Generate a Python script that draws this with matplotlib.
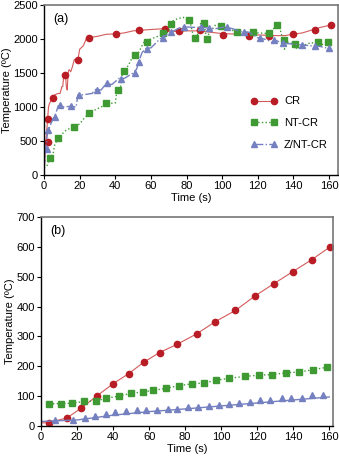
import matplotlib.pyplot as plt
from matplotlib.lines import Line2D

# ---- panel (a): temperature traces (line) and marker points ----
cr_t = [0, 0.5, 1, 1.5, 2, 2.5, 3, 4, 5, 6, 8, 9, 10, 10.5, 11, 12, 12.5, 13, 13.5, 14, 15, 16, 17, 18,
        19, 20, 22, 24, 25, 30, 35, 40, 45, 50, 55, 60, 66, 67, 67.5, 75, 80, 88, 90, 100, 110, 120, 130,
        135, 140, 145, 150, 155, 160]
cr_T = [0, 250, 500, 650, 830, 1000, 1050, 1100, 1130, 1180, 1200, 1200, 1300, 1300, 1460, 1470, 1300,
        1250, 1500, 1550, 1520, 1600, 1700, 1700, 1700, 1850, 1900, 2020, 2020, 2040, 2070, 2075, 2090,
        2120, 2130, 2140, 2150, 2170, 2120, 2110, 2120, 2120, 2110, 2080, 2070, 2060, 2050, 2050, 2070,
        2090, 2130, 2170, 2200]
cr_mt = [2.4, 2.4, 4.9, 11.8, 19.1, 25.4, 40.4, 53.1, 68.1, 75.6, 87.6, 100.3, 115.3, 126, 139.6, 152.1, 161]
cr_mT = [489, 822, 1135, 1468, 1698, 2020, 2074, 2128, 2143, 2113, 2138, 2060, 2045, 2040, 2070, 2133, 2202]

nt_t = [0, 2, 3, 5, 6, 8, 10, 12, 16, 20, 22, 25, 28, 32, 35, 40, 41, 43, 44, 47, 50, 53, 56, 60, 65,
        67, 70, 71, 75, 78, 80, 82, 84, 86, 88, 90, 91, 93, 96, 100, 104, 108, 115, 120, 126, 128, 130,
        132, 134, 135, 137, 140, 142, 145, 150, 155, 158, 160]
nt_T = [100, 150, 250, 300, 450, 540, 600, 650, 710, 750, 820, 900, 950, 1000, 1050, 1060, 1260, 1300,
        1520, 1600, 1750, 1800, 1950, 2000, 2050, 2080, 2100, 2250, 2300, 2320, 2280, 2250, 2020, 2050,
        2240, 2230, 2000, 2100, 2200, 2190, 2150, 2100, 2100, 2090, 2080, 2100, 2220, 2200, 1990, 1850,
        1950, 1930, 1850, 1900, 1950, 1900, 1950, 1950]
nt_mt = [3.4, 8, 16.8, 25.4, 34.8, 41.7, 44.9, 51.1, 57.6, 67, 71.5, 81.6, 84.6, 89.8, 91.7, 99.2, 108.5,
         117.1, 126.5, 131, 134.7, 140.9, 153.6, 159.2]
nt_mT = [245, 538, 709, 905, 1052, 1257, 1531, 1761, 1962, 2084, 2216, 2275, 2020, 2241, 2006, 2192, 2099,
         2099, 2084, 2202, 1991, 1932, 1952, 1952]

z_t = [0, 1, 2, 3, 5, 6, 8, 10, 15, 18, 19, 22, 27, 29, 32, 35, 38, 42, 45, 50, 52, 53, 55, 57, 60, 65,
       70, 75, 78, 85, 88, 92, 96, 102, 106, 110, 115, 120, 125, 128, 130, 134, 138, 142, 146, 150, 155, 160]
z_T = [100, 380, 650, 700, 830, 860, 1020, 1000, 1010, 1000, 1180, 1180, 1200, 1260, 1250, 1350, 1330,
       1420, 1420, 1500, 1560, 1660, 1800, 1860, 1870, 2000, 2080, 2150, 2180, 2170, 2180, 2160, 2150,
       2180, 2150, 2110, 2100, 2020, 1990, 1950, 1980, 1940, 1930, 1920, 1910, 1900, 1890, 1860]
z_mt = [1.7, 2, 6.2, 9, 15, 19.8, 29.6, 35.6, 43.1, 51.1, 53.5, 57.6, 66.6, 71.1, 78.6, 88, 92.8, 102.5,
        112.5, 121.1, 128.8, 134, 144.6, 152.1, 160.2]
z_mT = [377, 656, 856, 1027, 1012, 1184, 1257, 1355, 1418, 1502, 1663, 1859, 2011, 2099, 2177, 2177, 2157,
        2177, 2104, 2016, 1981, 1942, 1918, 1898, 1864]

# ---- panel (b) ----
b_cr_t = [0, 4.2, 14.4, 22.2, 30.9, 39.9, 48.6, 56.9, 65.8, 75.7, 86.5, 96.6, 107.9, 118.6, 129.3, 139.7, 150.2, 160.4]
b_cr_T = [10, 11, 27, 59, 100, 141, 175, 213, 246, 274, 309, 349, 387, 435, 477, 517, 557, 600]

b_nt_t = [4.6, 11.1, 17.4, 23.8, 30.7, 36.2, 43.2, 49.9, 56.5, 62.4, 69.3, 76.5, 83.7, 90.5, 97.2, 104.6,
          113.3, 120.8, 128.3, 136, 143.4, 150.8, 158.9]
b_nt_T = [74, 75, 76, 82, 84, 93, 100, 109, 114, 119, 126, 135, 141, 144, 153, 160, 166, 170, 172, 178,
          181, 188, 197]

b_z_t = [0, 20, 40, 60, 80, 100, 120, 140, 160]
b_z_T = [15, 20, 36, 48, 57, 67, 77, 87, 97]
b_z_mt = [7.6, 17.7, 24.6, 30.1, 35.8, 41, 47.3, 53.2, 58.4, 64.3, 70.4, 75.7, 81.8, 87, 93.5, 98.7,
          104.2, 110.1, 116, 121.6, 127.2, 133.8, 138.9, 144.9, 150.4, 156.3]
b_z_mT = [20, 20, 28, 34, 40, 46, 50, 53, 54, 54, 57, 57, 63, 63, 67, 69, 74, 78, 81, 86, 86, 92, 94, 95,
          103, 105]

red_line, red_mk = '#d45a5a', '#b81c24'
green = '#3f9a34'
blue = '#7480bf'

plt.rcParams['font.family'] = 'Liberation Sans'
plt.rcParams['font.size'] = 8

fig = plt.figure(figsize=(3.39, 4.57), dpi=100)
ax1 = fig.add_axes([0.130, 0.617, 0.867, 0.372])
ax2 = fig.add_axes([0.121, 0.068, 0.861, 0.457])

# (a)
ax1.plot(cr_t, cr_T, '-', color=red_line, lw=0.8)
ax1.plot(cr_mt, cr_mT, 'o', color=red_mk, ms=4.5, lw=0)
ax1.plot(nt_t, nt_T, ':', color=green, lw=1.0)
ax1.plot(nt_mt, nt_mT, 's', color=green, ms=4.5, lw=0)
ax1.plot(z_t, z_T, '-.', color=blue, lw=1.0)
ax1.plot(z_mt, z_mT, '^', color=blue, ms=5, lw=0)
ax1.set_xlim(0, 165)
ax1.set_ylim(0, 2500)
ax1.set_xticks(range(0, 161, 20))
ax1.set_yticks(range(0, 2501, 500))
ax1.set_xlabel('Time (s)', labelpad=1)
ax1.set_ylabel('Temperature (ºC)', labelpad=1)
ax1.text(0.03, 0.90, '(a)', transform=ax1.transAxes, fontsize=9)

handles = [Line2D([], [], color=red_line, lw=0.8, marker='o', mfc=red_mk, mec=red_mk, ms=4.5),
           Line2D([], [], color=green, ls=':', lw=1.0, marker='s', ms=4.5),
           Line2D([], [], color=blue, ls='-.', lw=1.0, marker='^', ms=5)]
ax1.legend(handles, ['CR', 'NT-CR', 'Z/NT-CR'], loc='lower right', bbox_to_anchor=(1.0, 0.09),
           frameon=False, numpoints=2, handlelength=2.4, handletextpad=0.6, labelspacing=1.05, fontsize=8)

# (b)
ax2.plot(b_cr_t, b_cr_T, '-', color=red_line, lw=0.8)
ax2.plot(b_cr_t[1:], b_cr_T[1:], 'o', color=red_mk, ms=4.5, lw=0)
ax2.plot(b_nt_t, b_nt_T, ':', color=green, lw=1.0, marker='s', ms=4.5)
ax2.plot(b_z_t, b_z_T, '-', color=blue, lw=1.0)
ax2.plot(b_z_mt, b_z_mT, '^', color=blue, ms=5, lw=0)
ax2.set_xlim(0, 162)
ax2.set_ylim(0, 700)
ax2.set_xticks(range(0, 161, 20))
ax2.set_yticks(range(0, 701, 100))
ax2.set_xlabel('Time (s)', labelpad=1)
ax2.set_ylabel('Temperature (ºC)', labelpad=1)
ax2.text(0.03, 0.92, '(b)', transform=ax2.transAxes, fontsize=9)

for ax in (ax1, ax2):
    ax.tick_params(direction='out', length=3, width=0.8, pad=1.5)
    ax.spines['top'].set_color('#777777')
    ax.spines['right'].set_color('#777777')
    ax.spines['top'].set_linewidth(1.2)
    ax.spines['right'].set_linewidth(1.2)
    ax.spines['left'].set_linewidth(1.0)
    ax.spines['bottom'].set_linewidth(1.0)

fig.savefig('out.png', dpi=100)
